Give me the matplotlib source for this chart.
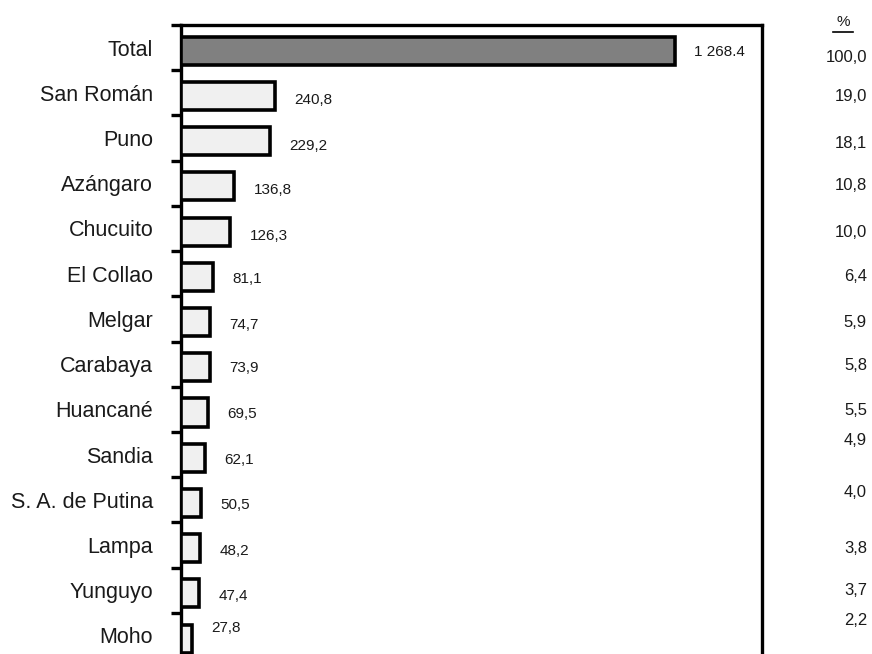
import matplotlib
matplotlib.use("Agg")
import matplotlib.pyplot as plt
import numpy as np

categories = ["Total", "San Román", "Puno", "Azángaro", "Chucuito", "El Collao",
              "Melgar", "Carabaya", "Huancané", "Sandia", "S. A. de Putina",
              "Lampa", "Yunguyo", "Moho"]
values = [1268.4, 240.8, 229.2, 136.8, 126.3, 81.1, 74.7, 73.9, 69.5, 62.1,
          50.5, 48.2, 47.4, 27.8]
value_labels = ["1 268.4", "240,8", "229,2", "136,8", "126,3", "81,1", "74,7",
                "73,9", "69,5", "62,1", "50,5", "48,2", "47,4", "27,8"]
pct_labels = ["100,0", "19,0", "18,1", "10,8", "10,0", "6,4", "5,9", "5,8",
              "5,5", "4,9", "4,0", "3,8", "3,7", "2,2"]

# layout offsets (in category units) for the text columns
val_dy = [0.10, 0.16, 0.18, 0.15, 0.17, 0.12, 0.14, 0.09, 0.11, 0.12, 0.12, 0.14, 0.13, -0.17]
pct_dy = [0.22, 0.09, 0.11, 0.06, 0.08, 0.07, 0.07, 0.02, 0.02, -0.32, -0.15, 0.07, 0.0, -0.33]

plt.rcParams['font.family'] = ['Liberation Sans', 'DejaVu Sans']

fig = plt.figure(figsize=(8.72, 6.54), dpi=100)
ax = fig.add_axes([181/872, 1 - 658/654, (762 - 181)/872, (658 - 25)/654])

n = len(categories)
ypos = np.arange(n)
bar_off = 0.07
colors = ["#808080"] + ["#f0f0f0"] * (n - 1)
ax.barh(ypos + bar_off, values, height=0.62, color=colors, edgecolor="black",
        linewidth=2.6, zorder=3)

ax.set_xlim(0, 1492)
ax.set_ylim(n - 0.5, -0.5)

# boundary ticks
ax.set_yticks(np.arange(n + 1) - 0.5)
ax.set_yticklabels([])
ax.tick_params(axis='y', which='major', length=7, width=2.4, direction='out', left=True, right=False)
ax.set_yticks(ypos, minor=True)
ax.set_yticklabels(categories, minor=True, fontsize=15.5, color="#1a1a1a")
ax.tick_params(axis='y', which='minor', length=0, pad=20)
ax.set_xticks([])

for sp in ["left", "top", "right"]:
    ax.spines[sp].set_linewidth(2.4)
ax.spines["bottom"].set_visible(False)

for i, (v, t) in enumerate(zip(values, value_labels)):
    ax.annotate(t, xy=(v, i + val_dy[i]), xytext=(14, 0), textcoords="offset points",
                ha="left", va="center", fontsize=11, color="#1a1a1a")

trans = matplotlib.transforms.blended_transform_factory(fig.transFigure, ax.transData)
for i, t in enumerate(pct_labels):
    fig.text(867/872, i + pct_dy[i], t, transform=trans, ha="right", va="center",
             fontsize=12, color="#1a1a1a")

fig.text(843.5/872, 1 - 22/654, "%", ha="center", va="center", fontsize=11, color="#1a1a1a")
fig.add_artist(matplotlib.lines.Line2D([833/872, 853/872], [1 - 32/654, 1 - 32/654],
                                       color="black", linewidth=1.2))

fig.savefig("out.png", dpi=100)
